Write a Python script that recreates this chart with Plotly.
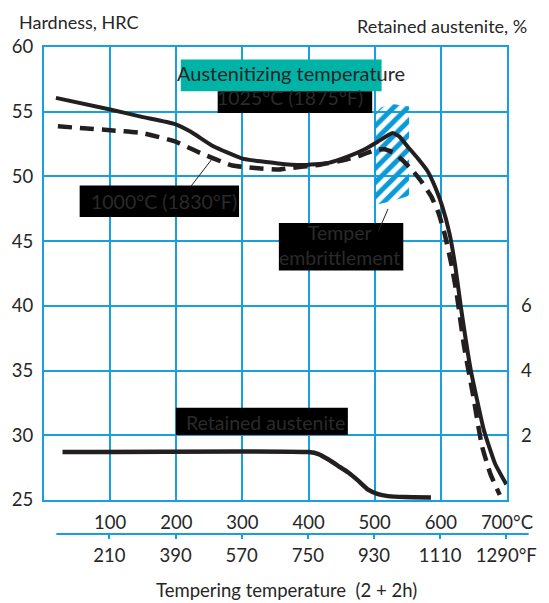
import plotly.graph_objects as go

# Hardness after tempering, austenitized at 1025 °C (1875 °F)
temp_1025 = [18, 100, 148, 197, 222, 256, 300, 354, 390, 430, 460, 485, 505, 527, 537,
             550, 565, 580, 592, 602, 613, 622, 630, 645, 665, 682, 699]
hrc_1025 = [56.07, 55.17, 54.6, 54.06, 53.45, 52.33, 51.38, 51.0, 50.88, 51.05, 51.55, 52.1,
            52.7, 53.35, 53.1, 52.3, 51.4, 50.4, 49.1, 47.7, 45.6, 43.0, 40.0, 35.1,
            30.4, 27.8, 26.2]

# Hardness after tempering, austenitized at 1000 °C (1830 °F)
temp_1000 = [21, 100, 148, 197, 236, 285, 354, 368, 417, 457, 480, 501, 515, 530, 545,
             559, 572, 586, 597, 606, 616, 624, 635, 648, 662, 675, 689]
hrc_1000 = [53.87, 53.57, 53.36, 52.72, 51.82, 50.84, 50.53, 50.62, 50.9, 51.3, 51.65, 52.05,
            52.1, 51.8, 51.1, 50.35, 49.5, 48.4, 47.1, 45.5, 43.2, 40.9, 36.9, 33.3,
            29.2, 27.0, 25.4]

# Retained austenite, %
temp_ra = [28, 400, 415, 430, 445, 460, 475, 490, 505, 520, 545, 585]
ra_pct = [1.48, 1.48, 1.42, 1.25, 1.05, 0.85, 0.6, 0.32, 0.18, 0.12, 0.09, 0.08]

# Temper embrittlement zone outline (°C, HRC)
embr_temp = [500, 510, 527, 552, 552, 527, 500, 500]
embr_hrc = [54.8, 55.35, 55.6, 55.4, 48.5, 48.1, 47.8, 54.8]

c_ticks = [100, 200, 300, 400, 500, 600, 700]
c_labels = ["100", "200", "300", "400", "500", "600", "700°C"]
f_ticks = [210, 390, 570, 750, 930, 1110, 1290]
f_labels = ["210", "390", "570", "750", "930", "1110", "1290°F"]
hrc_ticks = [25, 30, 35, 40, 45, 50, 55, 60]
ra_ticks = [2, 4, 6]

BLUE = "#17a0dd"
HATCH = "#0a9ad9"
TEAL = "#00b3a7"
INK = "#231f20"
TXT = "#262626"
FONT = "Lato"

W, H = 549, 603
ML, MR, MT, MB = 39, 34, 47, 69
PW, PH = W - ML - MR, H - MT - MB
plot_bottom_px = 500
ydom0 = (H - MB - plot_bottom_px) / PH


def px(xp):
    return (xp - ML) / PW


def py(yp):
    return (H - MB - yp) / PH


fig = go.Figure()

fig.add_trace(go.Scatter(
    x=embr_temp, y=embr_hrc, mode="lines", fill="toself",
    line=dict(width=0, color="rgba(0,0,0,0)"),
    fillcolor="rgba(0,0,0,0)",
    fillpattern=dict(shape="/", fgcolor=HATCH, fgopacity=1, size=10, solidity=0.5),
    hoverinfo="skip", showlegend=False))

fig.add_trace(go.Scatter(
    x=temp_1000, y=hrc_1000, mode="lines",
    line=dict(color=INK, width=4.5, dash="14px,8px", shape="spline", smoothing=0.4),
    showlegend=False))

fig.add_trace(go.Scatter(
    x=temp_1025, y=hrc_1025, mode="lines",
    line=dict(color=INK, width=4, shape="spline", smoothing=0.4),
    showlegend=False))

fig.add_trace(go.Scatter(
    x=temp_ra, y=ra_pct, mode="lines", yaxis="y2",
    line=dict(color=INK, width=4.5, shape="spline", smoothing=0.5),
    showlegend=False))

# Fahrenheit scale carrier (invisible)
fig.add_trace(go.Scatter(
    x=[t * 1.8 + 32 for t in temp_1025], y=hrc_1025, xaxis="x2", mode="lines",
    line=dict(width=0), opacity=0, hoverinfo="skip", showlegend=False))

tick_font = dict(family=FONT, size=18.5, color=TXT)

fig.update_layout(
    width=W, height=H,
    margin=dict(l=ML, r=MR, t=MT, b=MB, pad=0),
    paper_bgcolor="white", plot_bgcolor="white",
    font=dict(family=FONT, color=TXT),
    xaxis=dict(range=[0, 700], tickvals=c_ticks, ticktext=c_labels,
               showgrid=True, gridcolor=BLUE, gridwidth=2,
               showline=True, linecolor=BLUE, linewidth=2, mirror=True,
               zeroline=False, ticks="", ticklabelstandoff=5,
               tickfont=tick_font, anchor="y"),
    xaxis2=dict(range=[32, 1292], tickvals=f_ticks, ticktext=f_labels,
                overlaying="x", anchor="free", position=0, side="bottom",
                showgrid=False, showline=False, zeroline=False,
                ticks="outside", ticklen=4, tickwidth=2, tickcolor=BLUE,
                ticklabelstandoff=1, tickfont=tick_font),
    yaxis=dict(range=[25, 60], tickvals=hrc_ticks, domain=[ydom0, 1],
               showgrid=True, gridcolor=BLUE, gridwidth=2,
               showline=True, linecolor=BLUE, linewidth=2, mirror=True,
               zeroline=False, ticks="", ticklabelstandoff=5,
               tickfont=tick_font),
    yaxis2=dict(range=[0, 14], tickvals=ra_ticks, overlaying="y", side="right",
                showgrid=False, showline=False, zeroline=False, ticks="",
                ticklabelstandoff=13, tickfont=tick_font),
)

shapes = [
    # Fahrenheit scale line
    dict(type="line", xref="paper", yref="paper", x0=px(51.7), x1=px(537.3), y0=0, y1=0,
         line=dict(color=BLUE, width=2)),
    # label boxes
    dict(type="rect", xref="x", yref="y", x0=206.8, x1=510.4, y0=56.58, y1=59.03,
         fillcolor=TEAL, line=dict(width=0), layer="above"),
    dict(type="rect", xref="x", yref="y", x0=262.6, x1=496.2, y0=54.91, y1=56.58,
         fillcolor="black", line=dict(width=0), layer="above"),
    dict(type="rect", xref="x", yref="y", x0=53.9, x1=294.9, y0=46.87, y1=49.29,
         fillcolor="black", line=dict(width=0), layer="above"),
    dict(type="rect", xref="x", yref="y", x0=355.1, x1=543.2, y0=42.74, y1=46.4,
         fillcolor="black", line=dict(width=0), layer="above"),
    dict(type="rect", xref="x", yref="y", x0=199.4, x1=459.4, y0=30.03, y1=32.12,
         fillcolor="black", line=dict(width=0), layer="above"),
    # leader lines
    dict(type="line", xref="x", yref="y", x0=221.4, y0=49.19, x1=253.3, y1=51.3,
         line=dict(color=INK, width=1)),
    dict(type="line", xref="x", yref="y", x0=505.4, y0=45.75, x1=520.1, y1=47.49,
         line=dict(color=INK, width=1)),
]
fig.update_layout(shapes=shapes)

lab_font = dict(family=FONT, size=18, color=TXT)
dark_font = dict(family=FONT, size=19.5, color="#2a2a2a")
annotations = [
    dict(text="Hardness, HRC", xref="paper", yref="paper", x=px(11.7), y=py(21.7),
         xanchor="left", yanchor="middle", showarrow=False, font=lab_font),
    dict(text="Retained austenite, %", xref="paper", yref="paper", x=px(537.3), y=py(25.8),
         xanchor="right", yanchor="middle", showarrow=False, font=lab_font),
    dict(text="Tempering temperature\u00a0\u00a0(2 + 2h)", xref="paper", yref="paper",
         x=px(288.5), y=py(590), xanchor="center", yanchor="middle",
         showarrow=False, font=dict(family=FONT, size=18.5, color=TXT)),
    dict(text="Austenitizing temperature", xref="x", yref="y", x=372.8, y=58.03,
         xanchor="center", yanchor="middle", showarrow=False,
         font=dict(family=FONT, size=20, color=TXT)),
    dict(text="1025°C (1875°F)", xref="x", yref="y", x=371.3, y=56.1,
         xanchor="center", yanchor="middle", showarrow=False, font=dark_font),
    dict(text="1000°C (1830°F)", xref="x", yref="y", x=181.8, y=48.07,
         xanchor="center", yanchor="middle", showarrow=False, font=dark_font),
    dict(text="Temper<br>embrittlement", xref="x", yref="y", x=446.2, y=44.73,
         xanchor="center", yanchor="middle", showarrow=False, font=dark_font),
    dict(text="Retained austenite", xref="x", yref="y", x=334.6, y=31.0,
         xanchor="center", yanchor="middle", showarrow=False, font=dark_font),
]
fig.update_layout(annotations=annotations)

fig.write_html("out.html")
